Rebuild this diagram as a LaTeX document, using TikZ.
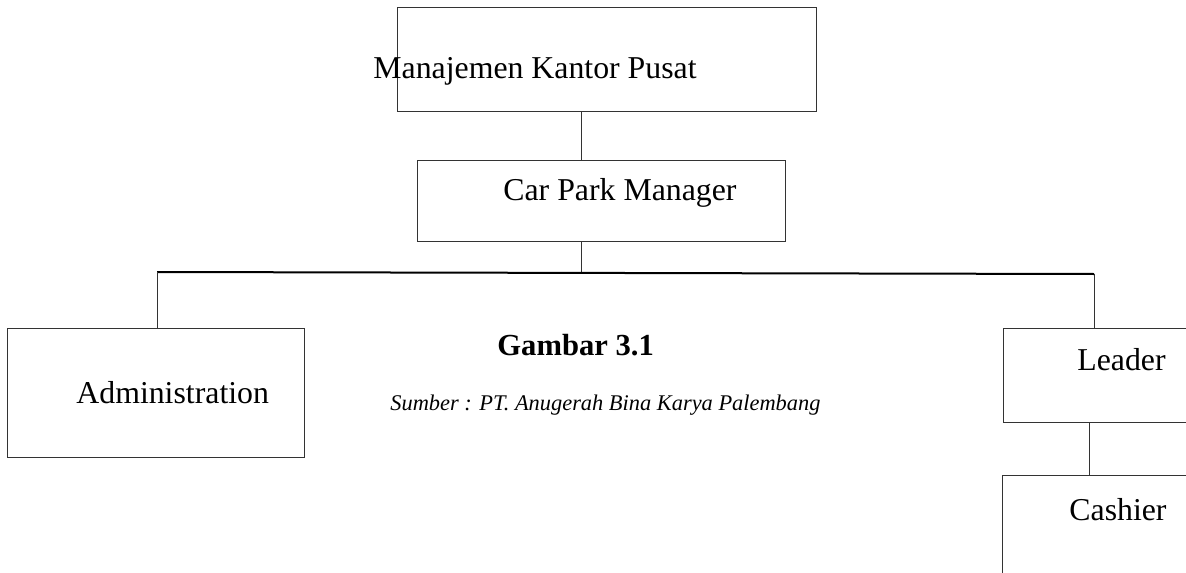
\documentclass[tikz,border=0pt]{standalone}
\usepackage{fontspec}
\setmainfont{Liberation Serif}
\usetikzlibrary{positioning,calc}
\tikzset{
  box/.style={draw=black!80, line width=0.5pt, inner sep=0pt},
  lbl/.style={inner sep=0pt, anchor=base west, font=\fontsize{15.9}{18}\selectfont},
  link/.style={draw=black!80, line width=0.5pt},
  bus/.style={draw=black, line width=1pt},
}
\begin{document}
\begin{tikzpicture}[x=0.5pt, y=-0.5pt]
\clip (0,0) rectangle (1186,572);
% boxes
\node[box, minimum width=209.5pt, minimum height=52pt] (mkp) at (606.5,60) {};
\node[box, minimum width=184pt, minimum height=40pt] (cpm) at (601,201) {};
\node[box, minimum width=148.5pt, minimum height=64.5pt] (adm) at (155.5,392.5) {};
\node[box, minimum width=98.5pt, minimum height=47pt] (ldr) at (1101.5,375) {};
\node[box, minimum width=99pt, minimum height=72.5pt] (csh) at (1101,547.5) {};
% texts
\node[lbl] (mkpT) at (373,79) {Manajemen Kantor Pusat};
\node[lbl] (cpmT) at (503,200) {Car Park Manager};
\node[lbl] (admT) at (76,403) {Administration};
\node[lbl] (ldrT) at (1077,370) {Leader};
\node[lbl] (cshT) at (1069,520) {Cashier};
\node[lbl, font=\fontsize{15.3}{18}\selectfont\bfseries] (fig) at (497,355) {Gambar 3.1};
\node[lbl, font=\fontsize{11.2}{13}\selectfont\itshape] (src) at (390,410) {Sumber : PT. Anugerah Bina Karya Palembang};
% lines
\coordinate (j1) at (581,273);
\coordinate (busL) at (157,272); \coordinate (busR) at (1094,274);
\draw[link] (mkp.south -| j1) -- (cpm.north -| j1);
\draw[link] (cpm.south -| j1) -- (j1);
\draw[bus] (busL) -- (busR);
\draw[link] (busL) -- (busL |- adm.north);
\draw[link] (busR) -- (busR |- ldr.north);
\draw[link] ($(ldr.south west)+(87,0)$) -- ($(csh.north west)+(88,0)$);
\end{tikzpicture}
\end{document}
